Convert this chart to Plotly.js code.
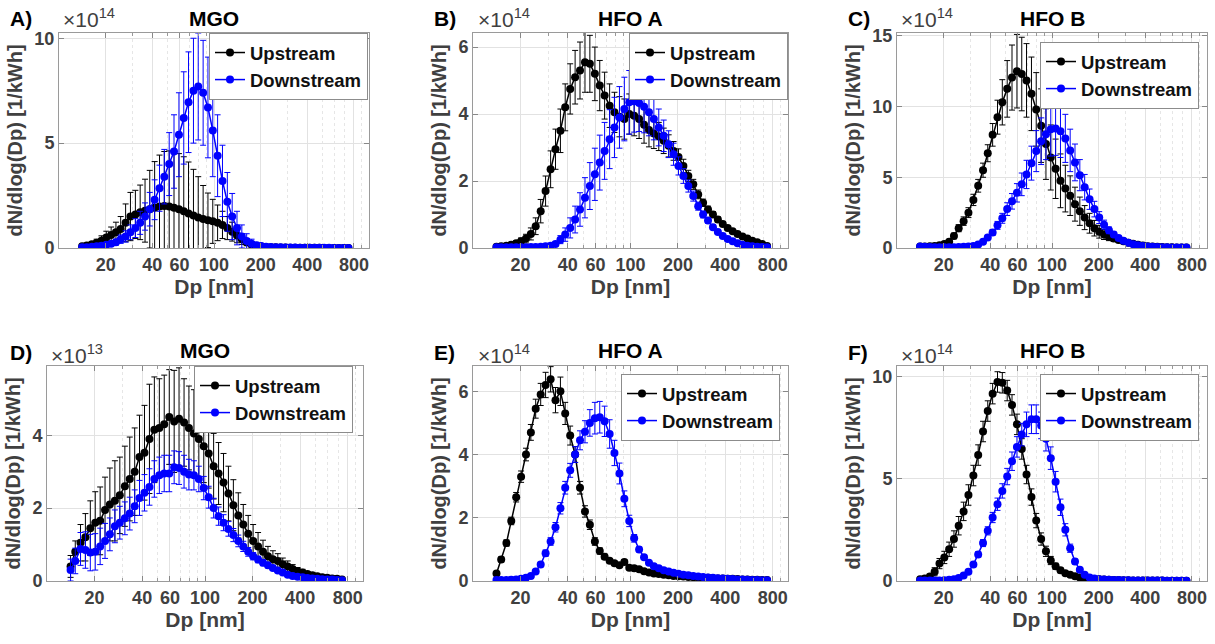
<!DOCTYPE html>
<html><head><meta charset="utf-8">
<script src="https://cdn.plot.ly/plotly-3.0.1.min.js"></script>
<style>html,body{margin:0;padding:0;background:#fff}#chart{width:1215px;height:644px}</style>
</head><body><div id="chart"></div><script>
// Particle diameter bins (nm)
const dp = [14.1,15.1,16.3,17.5,18.8,20.2,21.7,23.3,25.0,26.9,28.9,31.1,33.4,35.9,38.5,41.4,44.5,47.8,51.4,55.2,59.4,63.8,68.5,73.7,79.1,85.1,91.4,98.2,105.5,113.4,121.9,131.0,140.7,151.2,162.5,174.7,187.7,201.7,216.7,232.9,250.3,269.0,289.0,310.6,333.8,358.7,385.4,414.2,445.1,478.3,514.0,552.3,593.5,637.8,685.4,736.5];

// Panel A (MGO, x1e14)
const upA = [0.08,0.12,0.18,0.25,0.35,0.5,0.62,0.75,0.9,1.2,1.5,1.6,1.7,1.78,1.85,1.92,1.98,2.0,1.98,1.92,1.85,1.75,1.65,1.55,1.45,1.38,1.32,1.27,1.2,1.1,0.95,0.78,0.6,0.42,0.27,0.16,0.1,0.07,0.05,0.04,0.03,0.025,0.02,0.015,0.012,0.01,0.01,0.008,0.007,0.006,0.005,0.005,0.004,0.004,0.003,0.003];
const upAErr = [0.05,0.08,0.12,0.17,0.23,0.3,0.38,0.48,0.6,0.9,1.15,1.15,1.3,1.5,1.85,2.2,2.45,2.6,2.65,2.7,2.65,2.6,2.45,2.2,1.95,1.6,1.3,1.05,0.85,0.65,0.55,0.45,0.35,0.25,0.16,0.1,0.07,0.05,0.04,0.03,0.02,0.02,0.015,0.01,0.01,0.01,0.01,0.005,0.005,0.005,0.005,0.005,0.003,0.003,0.002,0.002];
const dnA = [0.03,0.04,0.06,0.08,0.11,0.15,0.2,0.28,0.42,0.55,0.75,0.95,1.2,1.5,1.85,2.3,2.85,3.4,4.0,4.6,5.4,6.2,6.95,7.5,7.7,7.4,6.7,5.6,4.4,3.2,2.2,1.5,0.95,0.55,0.33,0.2,0.13,0.09,0.06,0.05,0.04,0.03,0.025,0.02,0.018,0.015,0.012,0.01,0.01,0.008,0.007,0.006,0.005,0.005,0.004,0.004];
const dnAErr = [0.01,0.02,0.03,0.04,0.05,0.07,0.1,0.14,0.2,0.27,0.35,0.45,0.55,0.65,0.8,0.95,1.1,1.3,1.5,1.75,2.0,2.2,2.4,2.5,2.55,2.5,2.4,2.2,1.95,1.7,1.4,1.1,0.8,0.55,0.35,0.22,0.14,0.09,0.06,0.04,0.03,0.02,0.02,0.015,0.01,0.01,0.01,0.008,0.006,0.005,0.005,0.004,0.004,0.003,0.003,0.003];

// Panel B (HFO A, x1e14)
const upB = [0.04,0.05,0.07,0.1,0.14,0.2,0.28,0.42,0.65,1.1,1.7,2.35,2.95,3.5,4.2,4.75,5.1,5.3,5.55,5.5,5.2,4.85,4.55,4.25,4.05,3.92,3.85,4.0,3.95,3.85,3.68,3.52,3.42,3.33,3.2,3.05,2.9,2.72,2.45,2.15,1.9,1.6,1.35,1.15,1.0,0.85,0.72,0.6,0.5,0.42,0.34,0.28,0.22,0.17,0.12,0.06];
const upBErr = [0.02,0.03,0.04,0.05,0.07,0.1,0.13,0.18,0.25,0.35,0.45,0.55,0.6,0.65,0.7,0.75,0.8,0.85,0.9,0.85,0.8,0.75,0.7,0.65,0.6,0.6,0.6,0.6,0.6,0.58,0.55,0.5,0.45,0.42,0.38,0.33,0.28,0.24,0.2,0.17,0.15,0.13,0.11,0.1,0.09,0.08,0.07,0.06,0.05,0.05,0.04,0.04,0.03,0.03,0.03,0.02];
const dnB = [0.02,0.02,0.02,0.02,0.02,0.02,0.02,0.03,0.03,0.04,0.05,0.07,0.12,0.25,0.4,0.6,0.85,1.15,1.5,1.85,2.2,2.55,2.9,3.25,3.6,3.9,4.15,4.35,4.38,4.33,4.22,4.05,3.85,3.6,3.35,3.1,2.8,2.45,2.15,1.85,1.55,1.25,1.0,0.82,0.62,0.48,0.36,0.27,0.2,0.14,0.1,0.07,0.05,0.04,0.03,0.02];
const dnBErr = [0.01,0.01,0.01,0.01,0.01,0.01,0.01,0.01,0.01,0.02,0.02,0.03,0.06,0.12,0.2,0.3,0.4,0.5,0.6,0.7,0.78,0.82,0.85,0.88,0.9,0.92,0.95,0.95,0.92,0.85,0.78,0.7,0.62,0.55,0.47,0.4,0.33,0.27,0.22,0.18,0.15,0.12,0.1,0.08,0.06,0.05,0.04,0.03,0.03,0.02,0.02,0.01,0.01,0.01,0.01,0.01];

// Panel C (HFO B, x1e14)
const upC = [0.1,0.1,0.12,0.15,0.2,0.28,0.45,0.85,1.4,1.9,2.5,3.4,4.4,5.5,6.7,8.0,9.25,10.3,11.25,12.05,12.5,12.3,11.85,10.9,9.8,8.65,7.35,6.4,5.6,4.75,4.2,3.7,3.1,2.6,2.15,1.75,1.4,1.15,0.95,0.8,0.68,0.56,0.47,0.38,0.3,0.23,0.18,0.13,0.11,0.09,0.07,0.06,0.05,0.04,0.04,0.03];
const upCErr = [0.02,0.03,0.04,0.05,0.07,0.1,0.15,0.2,0.25,0.3,0.35,0.4,0.45,0.5,0.6,0.8,1.2,1.6,2.0,2.3,2.6,2.6,2.6,2.6,2.6,2.6,2.5,2.3,2.1,1.9,1.65,1.4,1.2,1.0,0.85,0.7,0.55,0.45,0.35,0.28,0.22,0.18,0.15,0.12,0.1,0.08,0.06,0.05,0.04,0.03,0.03,0.02,0.02,0.02,0.01,0.01];
const dnC = [0.1,0.08,0.07,0.06,0.05,0.05,0.05,0.06,0.07,0.08,0.1,0.15,0.25,0.45,0.75,1.1,1.6,2.1,2.75,3.3,3.9,4.5,5.2,6.0,6.85,7.55,8.05,8.4,8.45,8.25,7.75,6.9,6.05,5.15,4.3,3.45,2.75,2.15,1.65,1.25,0.95,0.7,0.52,0.38,0.27,0.2,0.15,0.11,0.09,0.07,0.06,0.05,0.04,0.04,0.03,0.03];
const dnCErr = [0.02,0.02,0.02,0.02,0.02,0.02,0.02,0.02,0.02,0.02,0.03,0.04,0.06,0.1,0.15,0.2,0.28,0.35,0.45,0.55,0.65,0.8,1.0,1.2,1.45,1.65,1.8,1.9,1.9,1.85,1.7,1.5,1.3,1.1,0.9,0.72,0.55,0.42,0.32,0.24,0.18,0.13,0.1,0.08,0.06,0.05,0.04,0.03,0.03,0.02,0.02,0.02,0.01,0.01,0.01,0.01];

// Panel D (MGO, x1e13)
const upD = [0.4,0.8,1.05,1.2,1.45,1.6,1.65,1.95,2.1,2.2,2.35,2.6,2.8,3.0,3.4,3.52,3.9,4.15,4.2,4.3,4.5,4.38,4.45,4.35,4.2,4.05,3.9,3.7,3.5,3.15,2.95,2.7,2.4,2.08,1.8,1.55,1.3,1.1,0.95,0.8,0.68,0.6,0.55,0.46,0.4,0.33,0.27,0.23,0.19,0.16,0.13,0.1,0.09,0.07,0.06,0.04];
const upDErr = [0.3,0.3,0.5,0.65,0.75,0.85,0.93,0.9,1.0,1.1,1.05,1.1,1.15,1.2,1.15,1.3,1.5,1.45,1.35,1.35,1.3,1.4,1.4,1.2,1.15,1.2,1.05,1.0,0.95,0.9,0.85,0.8,0.75,0.7,0.62,0.55,0.5,0.45,0.38,0.32,0.27,0.23,0.2,0.17,0.15,0.12,0.1,0.09,0.07,0.06,0.05,0.04,0.03,0.03,0.02,0.02];
const dnD = [0.3,0.55,0.88,0.85,0.78,0.8,0.95,1.1,1.28,1.5,1.6,1.72,1.85,2.05,2.28,2.42,2.58,2.8,2.9,2.95,2.95,3.12,3.1,3.0,2.92,2.9,2.8,2.55,2.3,2.0,1.78,1.6,1.43,1.26,1.1,0.95,0.8,0.68,0.59,0.5,0.43,0.36,0.29,0.23,0.17,0.14,0.12,0.1,0.08,0.07,0.06,0.05,0.04,0.04,0.03,0.02];
const dnDErr = [0.3,0.35,0.45,0.5,0.5,0.5,0.5,0.48,0.45,0.45,0.45,0.45,0.45,0.45,0.48,0.5,0.5,0.5,0.5,0.5,0.5,0.45,0.45,0.45,0.42,0.4,0.35,0.32,0.3,0.27,0.25,0.22,0.2,0.18,0.16,0.14,0.12,0.1,0.09,0.08,0.07,0.06,0.05,0.04,0.04,0.03,0.03,0.03,0.02,0.02,0.02,0.02,0.01,0.01,0.01,0.01];

// Panel E (HFO A, x1e14)
const upE = [0.24,0.68,1.2,1.9,2.65,3.3,4.0,4.7,5.45,5.9,6.2,6.38,5.72,6.0,5.3,4.6,4.0,2.95,2.2,1.78,1.25,0.95,0.77,0.64,0.56,0.5,0.6,0.42,0.4,0.37,0.31,0.27,0.24,0.22,0.2,0.18,0.16,0.15,0.14,0.13,0.12,0.11,0.1,0.1,0.09,0.08,0.08,0.07,0.07,0.06,0.05,0.05,0.04,0.04,0.03,0.03];
const upEErr = [0.05,0.08,0.1,0.12,0.15,0.18,0.2,0.25,0.3,0.35,0.4,0.4,0.4,0.45,0.35,0.3,0.25,0.2,0.18,0.15,0.12,0.1,0.08,0.07,0.06,0.06,0.07,0.05,0.05,0.04,0.04,0.03,0.03,0.03,0.03,0.02,0.02,0.02,0.02,0.02,0.02,0.02,0.01,0.01,0.01,0.01,0.01,0.01,0.01,0.01,0.01,0.01,0.01,0.01,0.01,0.01];
const dnE = [0.03,0.03,0.03,0.04,0.05,0.07,0.1,0.16,0.3,0.52,0.88,1.25,1.7,2.3,2.95,3.5,4.0,4.45,4.72,5.0,5.15,5.18,5.05,4.65,4.05,3.4,2.6,1.9,1.35,1.0,0.75,0.58,0.47,0.4,0.34,0.3,0.26,0.23,0.2,0.18,0.16,0.14,0.13,0.11,0.1,0.09,0.08,0.07,0.06,0.05,0.05,0.04,0.03,0.03,0.02,0.02];
const dnEErr = [0.01,0.01,0.01,0.01,0.01,0.02,0.02,0.03,0.05,0.07,0.1,0.12,0.15,0.18,0.2,0.22,0.25,0.3,0.35,0.42,0.5,0.5,0.48,0.45,0.4,0.33,0.25,0.18,0.12,0.08,0.06,0.05,0.04,0.03,0.03,0.03,0.02,0.02,0.02,0.02,0.02,0.01,0.01,0.01,0.01,0.01,0.01,0.01,0.01,0.01,0.01,0.01,0.01,0.01,0.01,0.01];

// Panel F (HFO B, x1e14)
const upF = [0.08,0.12,0.22,0.45,0.85,1.15,1.55,2.05,2.7,3.4,4.2,5.15,6.15,7.3,8.3,9.15,9.72,9.68,9.3,8.6,7.65,6.45,5.2,4.1,2.95,2.05,1.45,1.0,0.72,0.52,0.38,0.3,0.23,0.17,0.14,0.11,0.09,0.08,0.07,0.06,0.05,0.05,0.04,0.04,0.03,0.03,0.03,0.02,0.02,0.02,0.02,0.01,0.01,0.01,0.01,0.01];
const upFErr = [0.05,0.08,0.12,0.2,0.25,0.3,0.35,0.4,0.45,0.45,0.5,0.5,0.5,0.5,0.5,0.5,0.5,0.5,0.5,0.5,0.5,0.5,0.45,0.4,0.35,0.3,0.25,0.2,0.15,0.12,0.1,0.08,0.06,0.05,0.04,0.03,0.03,0.02,0.02,0.02,0.02,0.01,0.01,0.01,0.01,0.01,0.01,0.01,0.01,0.01,0.01,0.01,0.01,0.01,0.01,0.01];
const dnF = [0.02,0.02,0.02,0.02,0.03,0.04,0.06,0.09,0.15,0.27,0.45,0.8,1.3,1.85,2.45,3.1,3.75,4.4,5.1,5.85,6.55,7.15,7.65,7.9,7.9,7.6,6.95,6.0,4.85,3.6,2.5,1.6,0.95,0.55,0.3,0.17,0.12,0.09,0.07,0.06,0.05,0.05,0.04,0.04,0.03,0.03,0.03,0.02,0.02,0.02,0.02,0.01,0.01,0.01,0.01,0.01];
const dnFErr = [0.01,0.01,0.01,0.01,0.01,0.02,0.02,0.03,0.04,0.06,0.08,0.1,0.13,0.17,0.2,0.25,0.3,0.35,0.4,0.45,0.5,0.55,0.6,0.7,0.7,0.65,0.6,0.55,0.5,0.4,0.3,0.2,0.12,0.07,0.04,0.03,0.03,0.02,0.02,0.02,0.02,0.01,0.01,0.01,0.01,0.01,0.01,0.01,0.01,0.01,0.01,0.01,0.01,0.01,0.01,0.01];

const panelLetters = ['A)','B)','C)','D)','E)','F)'];
const panelTitles = ['MGO','HFO A','HFO B','MGO','HFO A','HFO B'];
const panelExponents = ['14','14','14','13','14','14'];
const seriesNames = ['Upstream','Downstream'];
const xTickVals = [20,40,60,100,200,400,800];
const xTickText = ['20','40','60','100','200','400','800'];
const xMinorVals = [10,20,30,40,50,60,70,80,90,100,200,300,400,500,600,700,800,900,1000];
const yTickVals = [[0,5,10],[0,2,4,6],[0,5,10,15],[0,2,4],[0,2,4,6],[0,5,10]];
const yMax = [10.25,6.42,15.2,5.9,6.8,10.5];
const upSeries = [[upA,upAErr],[upB,upBErr],[upC,upCErr],[upD,upDErr],[upE,upEErr],[upF,upFErr]];
const dnSeries = [[dnA,dnAErr],[dnB,dnBErr],[dnC,dnCErr],[dnD,dnDErr],[dnE,dnEErr],[dnF,dnFErr]];

// layout geometry (pixels)
const W = 1215, H = 644;
const boxes = [[59,369,33,248],[473,788,33,248],[897,1207,33,248],[47,363,366,581],[473,788,366,581],[897,1207,366,581]];
const legendPos = [[368,33],[788,33],[1199,42],[353,366],[780,374],[1199,374]];
const letterPos = [[8,18],[432,18],[846,18],[8,352],[432,352],[846,352]];
const titleY = [18,18,18,350,350,350];
const expPos = [[61,18],[476,18],[899,18],[49,354],[476,354],[899,354]];

const FONT = '"Liberation Sans", Arial, Helvetica, sans-serif';
const TXT = '#404040';
const BLUE = '#0000ff';
const px = x => x / W, py = y => 1 - y / H;

const traces = [];
const layout = {
  width: W, height: H, margin: {l:0, r:0, t:0, b:0},
  paper_bgcolor: '#fff', plot_bgcolor: '#fff',
  showlegend: true, annotations: [], font: {family: FONT}
};

for (let i = 0; i < 6; i++) {
  const n = i + 1;
  const xa = 'x' + (n === 1 ? '' : n), ya = 'y' + (n === 1 ? '' : n);
  const lg = 'legend' + (n === 1 ? '' : n);
  const b = boxes[i];
  traces.push({
    x: dp, y: upSeries[i][0], xaxis: xa, yaxis: ya, legend: lg,
    name: seriesNames[0], type: 'scatter', mode: 'lines+markers',
    line: {color: '#000', width: 1.5}, marker: {color: '#000', size: 8},
    error_y: {type: 'data', array: upSeries[i][1], visible: true, color: '#000', thickness: 1, width: 3}
  });
  traces.push({
    x: dp, y: dnSeries[i][0], xaxis: xa, yaxis: ya, legend: lg,
    name: seriesNames[1], type: 'scatter', mode: 'lines+markers',
    line: {color: BLUE, width: 1.5}, marker: {color: BLUE, size: 8},
    error_y: {type: 'data', array: dnSeries[i][1], visible: true, color: BLUE, thickness: 1, width: 3}
  });
  const xKey = 'xaxis' + (n === 1 ? '' : n), yKey = 'yaxis' + (n === 1 ? '' : n);
  layout[xKey] = {
    domain: [px(b[0]), px(b[1])], anchor: ya, type: 'log', range: [1, 3],
    tickmode: 'array', tickvals: xTickVals, ticktext: xTickText,
    ticks: 'inside', ticklen: 5, tickcolor: '#888', tickwidth: 1,
    showline: true, linecolor: '#9a9a9a', linewidth: 1, mirror: 'ticks',
    showgrid: true, gridcolor: '#e2e2e2', gridwidth: 1, zeroline: false,
    tickfont: {family: FONT, size: 18, color: TXT, weight: 'bold'},
    minor: {tickmode: 'array', tickvals: xMinorVals, ticks: 'inside', ticklen: 3, tickcolor: '#999',
            showgrid: true, gridcolor: '#e6e6e6', griddash: 'dot', gridwidth: 1},
    title: {text: 'Dp [nm]', font: {family: FONT, size: 21, color: TXT, weight: 'bold'}, standoff: 4},
    automargin: false, fixedrange: true
  };
  layout[yKey] = {
    domain: [py(b[3]), py(b[2])], anchor: xa, range: [0, yMax[i]],
    tickmode: 'array', tickvals: yTickVals[i], ticktext: yTickVals[i].map(String),
    ticks: 'inside', ticklen: 5, tickcolor: '#888', tickwidth: 1,
    showline: true, linecolor: '#9a9a9a', linewidth: 1, mirror: 'ticks',
    showgrid: true, gridcolor: '#e2e2e2', gridwidth: 1, zeroline: false,
    tickfont: {family: FONT, size: 18, color: TXT, weight: 'bold'},
    title: {text: 'dN/dlog(Dp) [1/kWh]', font: {family: FONT, size: 20, color: TXT, weight: 'bold'}, standoff: 6},
    automargin: false, fixedrange: true
  };
  layout[lg] = {
    x: px(legendPos[i][0]), xanchor: 'right', y: py(legendPos[i][1]), yanchor: 'top',
    xref: 'paper', yref: 'paper',
    bgcolor: '#fff', bordercolor: '#8c8c8c', borderwidth: 1,
    font: {family: FONT, size: 18.5, color: '#111', weight: 'bold'},
    tracegroupgap: 0, itemwidth: 30
  };
  layout.annotations.push({
    text: panelLetters[i], xref: 'paper', yref: 'paper', x: px(letterPos[i][0]), y: py(letterPos[i][1]),
    xanchor: 'left', yanchor: 'middle', showarrow: false,
    font: {family: FONT, size: 21, color: '#000', weight: 'bold'}
  });
  layout.annotations.push({
    text: panelTitles[i], xref: 'paper', yref: 'paper', x: px((b[0] + b[1]) / 2), y: py(titleY[i]),
    xanchor: 'center', yanchor: 'middle', showarrow: false,
    font: {family: FONT, size: 21, color: '#000', weight: 'bold'}
  });
  layout.annotations.push({
    text: '\u00d710<sup>' + panelExponents[i] + '</sup>', xref: 'paper', yref: 'paper',
    x: px(expPos[i][0]), y: py(expPos[i][1]),
    xanchor: 'left', yanchor: 'middle', showarrow: false,
    font: {family: FONT, size: 21, color: TXT}
  });
}

Plotly.newPlot('chart', traces, layout, {staticPlot: true, displayModeBar: false});
</script></body></html>
